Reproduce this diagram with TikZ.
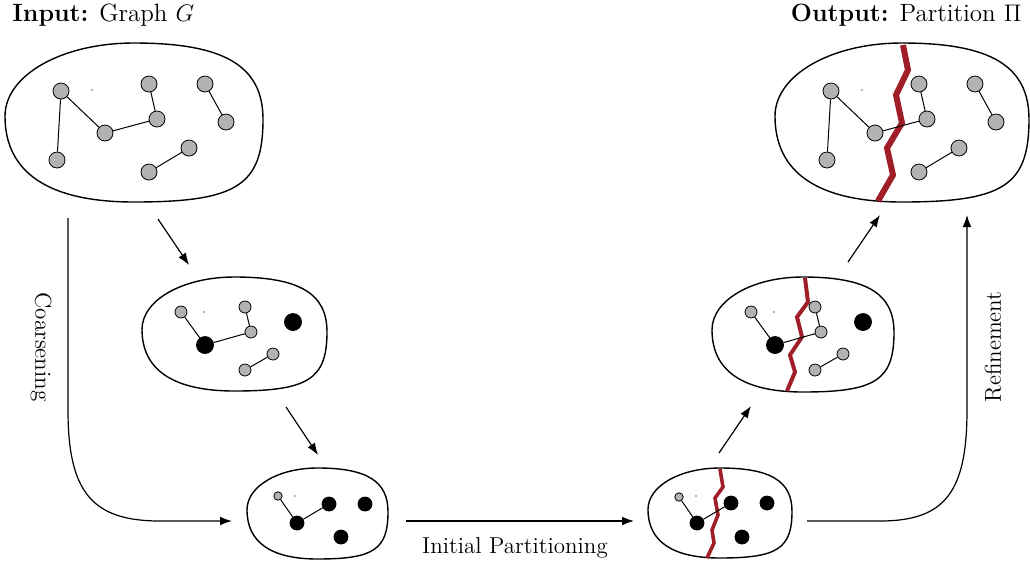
\documentclass[tikz,border=0pt]{standalone}
\usetikzlibrary{arrows.meta}
\definecolor{cutred}{RGB}{160,30,40}
\definecolor{ngray}{RGB}{178,178,178}
% blob: centre x, centre y, half width, half height; corner factors tl, tr, br, bl
\newcommand\myblob[4]{%
 \def\ktl{0.56}\def\ktr{0.7}\def\kbr{0.8}\def\kbl{0.66}%
 \draw[blobline] ({#1-#3},{#2-0.08*#4}) .. controls ({#1-#3},{#2-0.08*#4-\ktl*0.92*#4}) and ({#1-\ktl*#3},{#2-#4}) .. ({#1},{#2-#4})
 .. controls ({#1+\ktr*#3},{#2-#4}) and ({#1+#3},{#2-0.04*#4-\ktr*0.96*#4}) .. ({#1+#3},{#2-0.04*#4})
 .. controls ({#1+#3},{#2-0.04*#4+\kbr*1.04*#4}) and ({#1+\kbr*#3},{#2+#4}) .. ({#1},{#2+#4})
 .. controls ({#1-\kbl*#3},{#2+#4}) and ({#1-#3},{#2-0.08*#4+\kbl*1.08*#4}) .. cycle;}
\begin{document}
\begin{tikzpicture}[x=0.5pt,y=-0.5pt,
  font=\fontsize{11.5}{13.8}\selectfont,
  title/.style={font=\fontsize{12.5}{15}\selectfont,inner sep=0pt},
  blobline/.style={line width=0.7pt},
  gn/.style={circle,draw,fill=ngray,line width=0.4pt,inner sep=0pt,minimum size=8pt},
  gns/.style={gn,minimum size=6pt},
  gnt/.style={gn,minimum size=4.2pt},
  bn/.style={circle,draw,fill=black,inner sep=0pt,minimum size=8.5pt},
  bns/.style={bn,minimum size=7pt},
  edge/.style={line width=0.5pt},
  speck/.style={fill=black!60},
  cut/.style={draw=cutred,line join=miter},
  flow/.style={line width=0.6pt,-{Latex[length=6pt,width=4.4pt]}}]
\useasboundingbox (0,0) rectangle (1030,564);

% titles
\node[title,anchor=base west] (tin) at (12,21) {\textbf{Input:} Graph $G$};
\node[title,anchor=base east] (tout) at (1022,21) {\textbf{Output:} Partition $\Pi$};

% ---------- blob 1 (input graph)
\myblob{134}{122.5}{129}{79.5}
\node[gn] (a1) at (61,91) {};
\node[gn] (a2) at (57,160) {};
\node[gn] (a3) at (105,133) {};
\node[gn] (a4) at (149,84) {};
\node[gn] (a5) at (157,119) {};
\node[gn] (a6) at (205,84) {};
\node[gn] (a7) at (226,122) {};
\node[gn] (a8) at (189,148) {};
\node[gn] (a9) at (149,172) {};
\draw[edge] (a1)--(a2) (a1)--(a3) (a3)--(a5) (a4)--(a5) (a6)--(a7) (a8)--(a9);
\fill[speck] (92,90) circle (0.4pt);

% ---------- blob 4 (output)
\myblob{902}{122.5}{127}{79.5}
\draw[cut,line width=3pt] (903,45)--(908,70)--(896,95)--(902,123)--(887,148)--(893,175)--(878,201);
\node[gn] (d1) at (831,91) {};
\node[gn] (d2) at (827,160) {};
\node[gn] (d3) at (875,133) {};
\node[gn] (d4) at (919,84) {};
\node[gn] (d5) at (927,119) {};
\node[gn] (d6) at (975,84) {};
\node[gn] (d7) at (996,122) {};
\node[gn] (d8) at (959,148) {};
\node[gn] (d9) at (919,172) {};
\draw[edge] (d1)--(d2) (d1)--(d3) (d3)--(d5) (d4)--(d5) (d6)--(d7) (d8)--(d9);
\fill[speck] (862,90) circle (0.4pt);

% ---------- blob 2
\myblob{234.5}{334}{92.5}{57}
\node[gns] (b1) at (181,312) {};
\node[bn]  (b2) at (205,345) {};
\node[gns] (b3) at (245,307) {};
\node[gns] (b4) at (251,332) {};
\node[bn]  (b5) at (293,322) {};
\node[gns] (b6) at (273,354) {};
\node[gns] (b7) at (245,370) {};
\draw[edge] (b1)--(b2) (b2)--(b4) (b3)--(b4) (b6)--(b7);
\fill[speck] (204,312) circle (0.4pt);

% ---------- blob 5
\myblob{803}{334.5}{91}{57.5}
\draw[cut,line width=2pt] (805,278)--(808,302)--(797,317)--(802,337)--(790,355)--(795,372)--(787,391);
\node[gns] (e1) at (751,312) {};
\node[bn]  (e2) at (775,345) {};
\node[gns] (e3) at (815,307) {};
\node[gns] (e4) at (821,332) {};
\node[bn]  (e5) at (863,322) {};
\node[gns] (e6) at (843,354) {};
\node[gns] (e7) at (815,370) {};
\draw[edge] (e1)--(e2) (e2)--(e4) (e3)--(e4) (e6)--(e7);
\fill[speck] (774,312) circle (0.4pt);

% ---------- blob 3
\myblob{317.5}{513.5}{70.5}{45.5}
\node[gnt] (c1) at (278,496) {};
\node[bns] (c2) at (297,523) {};
\node[bns] (c3) at (329,504) {};
\node[bns] (c4) at (365,504) {};
\node[bns] (c5) at (341,537) {};
\draw[edge] (c1)--(c2) (c2)--(c3);
\fill[speck] (295,496) circle (0.4pt);

% ---------- blob 6
\myblob{720}{513}{72}{45}
\draw[cut,line width=1.8pt] (720,469)--(723,487)--(715,498)--(718,515)--(712,530)--(714,543)--(707,558);
\node[gnt] (f1) at (679,497) {};
\node[bns] (f2) at (697,523) {};
\node[bns] (f3) at (731,503) {};
\node[bns] (f4) at (767,503) {};
\node[bns] (f5) at (742,537) {};
\draw[edge] (f1)--(f2) (f2)--(f3);
\fill[speck] (696,496) circle (0.4pt);

% ---------- connectors
\coordinate (s12) at (158,219); \coordinate (t12) at (189,265);
\coordinate (s23) at (286,407); \coordinate (t23) at (318,455);
\coordinate (s65) at (719,453); \coordinate (t65) at (751,406);
\coordinate (s54) at (848,262); \coordinate (t54) at (880,215);
\coordinate (cs) at (68,218); \coordinate (ct) at (232,521);
\coordinate (ps) at (406,521); \coordinate (pt) at (634,521);
\coordinate (rs) at (807,521); \coordinate (rt) at (967,215);

\draw[flow] (s12)--(t12);
\draw[flow] (s23)--(t23);
\draw[flow] (s65)--(t65);
\draw[flow] (s54)--(t54);
\draw[flow] (cs) -- (68,410) .. controls (68,492) and (92,521) .. (160,521) -- (ct);
\draw[flow] (ps) -- (pt);
\draw[flow] (rs) -- (880,521) .. controls (945,521) and (967,492) .. (967,410) -- (rt);

% ---------- labels
\node[rotate=-90] (lc) at (41,347) {Coarsening};
\node[rotate=90] (lr) at (993,347) {Refinement};
\node[anchor=base] (lp) at (515,553) {Initial Partitioning};
\end{tikzpicture}
\end{document}
